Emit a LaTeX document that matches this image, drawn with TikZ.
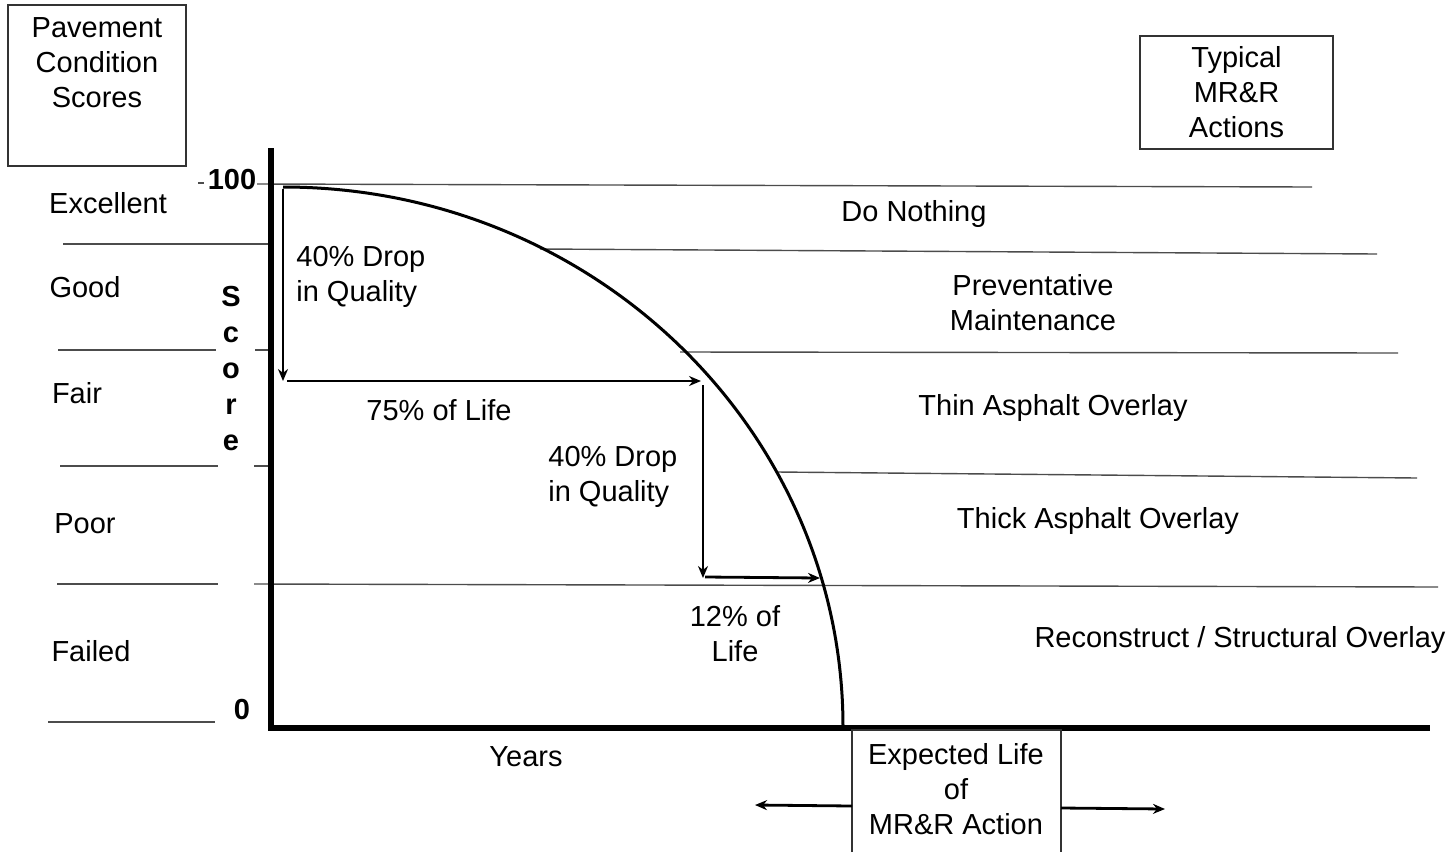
\documentclass[tikz,border=0pt]{standalone}
\usepackage{fontspec}
\setmainfont{Liberation Sans}
\usetikzlibrary{arrows.meta}
\begin{document}
\begin{tikzpicture}[x=0.5pt,y=-0.5pt,
  lbl/.style={font=\fontsize{14.5}{17.5}\selectfont, align=center, inner sep=0pt},
  lbll/.style={lbl, align=left},
  bld/.style={font=\fontsize{14.5}{18}\selectfont\bfseries, align=center, inner sep=0pt},
  gridline/.style={line width=0.7pt, draw=black!70},
  axisline/.style={line width=2.6pt, line join=miter},
  curveline/.style={line width=1.5pt},
  arr/.style={line width=1.4pt, -{Stealth[length=6pt,width=5pt]}},
  boxline/.style={line width=0.7pt, draw=black!80},
]
\useasboundingbox (0,0) rectangle (1452,852);

% boxes
\draw[boxline] (8,5) rectangle (186,166);
\node[lbl] (pcs) at (97,63) {Pavement\\Condition\\Scores};
\node[lbl, draw=black!80, line width=0.7pt, minimum width=96.5pt, minimum height=56.5pt] (mrr) at (1236.5,92.5) {Typical\\MR\&R\\Actions};

% grid lines (left)
\draw[gridline] (63,244) -- (270,244);
\draw[gridline] (58,350) -- (216,350);
\draw[gridline] (255,350) -- (271,350);
\draw[gridline] (60,466) -- (218,466);
\draw[gridline] (254,466) -- (271,466);
\draw[gridline] (57,584) -- (218,584);
\draw[gridline] (48,722) -- (215,722);
% grid lines (right)
\draw[gridline] (198,183) -- (204,183);
\draw[gridline] (257,184) -- (1312,187);
\draw[gridline] (540,249) -- (1377,254);
\draw[gridline] (680,352) -- (1398,353);
\draw[gridline] (777,472) -- (1417,478);
\draw[gridline] (254,584) -- (1438,587);

% axes
\coordinate (ytop) at (271,148);
\coordinate (orig) at (271,728);
\coordinate (xend) at (1430,728);
\draw[axisline] (ytop) -- (orig) -- (xend);

% deterioration curve
\coordinate (ctop) at (283,187);
\draw[curveline] (ctop) arc[start angle=90, end angle=0, x radius=280pt, y radius=270pt] coordinate (cend);

% arrows
\coordinate (p1) at (283,189);
\coordinate (p2) at (283,381);
\coordinate (p3) at (287,381);
\coordinate (p4) at (701,381);
\coordinate (p5) at (703,385);
\coordinate (p6) at (703,578);
\coordinate (p7) at (705,577);
\coordinate (p8) at (820,578);
\draw[arr] (p1) -- (p2);
\draw[arr] (p3) -- (p4);
\draw[arr] (p5) -- (p6);
\draw[arr] (p7) -- (p8);

% axis labels
\node[bld] (n100) at (232,180) {100};
\node[bld] (n0) at (242,710) {0};
\node[bld] (score) at (231,369) {S\\c\\o\\r\\e};
\node[lbl] (years) at (526,757) {Years};

% condition labels
\node[lbl] (exc) at (108,203) {Excellent};
\node[lbl] (good) at (85,287) {Good};
\node[lbl] (fair) at (77,393) {Fair};
\node[lbl] (poor) at (85,524) {Poor};
\node[lbl] (failed) at (91,651) {Failed};

% curve annotations
\node[lbll, anchor=west] (drop1) at (296,277) {40\% Drop\\in Quality};
\node[lbl] (life75) at (439,410) {75\% of Life};
\node[lbll, anchor=west] (drop2) at (548,477) {40\% Drop\\in Quality};
\node[lbl] (life12) at (735,634) {12\% of\\Life};

% actions
\node[lbl] (act1) at (914,214) {Do Nothing};
\node[lbl] (act2) at (1033,303) {Preventative\\Maintenance};
\node[lbl] (act3) at (1053,408) {Thin Asphalt Overlay};
\node[lbl] (act4) at (1098,521) {Thick Asphalt Overlay};
\node[lbl] (act5) at (1240,640) {Reconstruct / Structural Overlay};

% expected life box
\coordinate (bl) at (852,852);
\coordinate (tl) at (852,730);
\coordinate (tr) at (1061,730);
\coordinate (br) at (1061,852);
\draw[boxline] (bl) -- (tl) -- (tr) -- (br);
\node[lbl] (exp) at (956,789) {Expected Life\\of\\MR\&R Action};
\coordinate (la) at (852,806);
\coordinate (lb) at (755,805);
\coordinate (ra) at (1061,808);
\coordinate (rb) at (1165,809);
\draw[arr] (la) -- (lb);
\draw[arr] (ra) -- (rb);
\end{tikzpicture}
\end{document}
